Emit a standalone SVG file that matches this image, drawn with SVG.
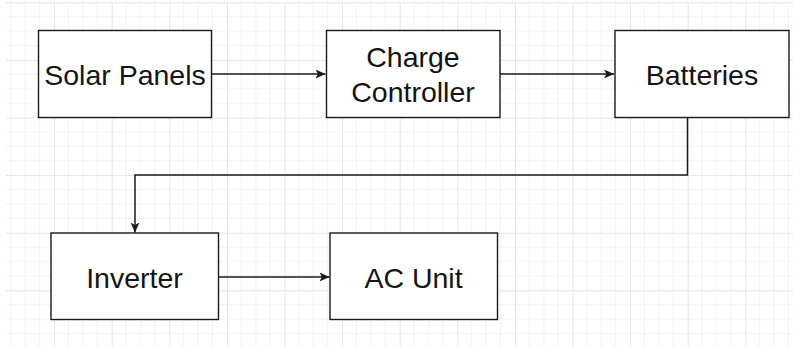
<svg xmlns="http://www.w3.org/2000/svg" width="793" height="347" viewBox="0 0 793 347">
  <style>
    .box { fill: #ffffff; stroke: #1a1a1a; stroke-width: 1.4; }
    .lbl { font-family: "Liberation Sans", Arial, sans-serif; font-size: 28.5px; fill: #141414; text-anchor: middle; }
    .edge { fill: none; stroke: #1a1a1a; stroke-width: 1.5; }
  </style>
  <defs>
    <pattern id="grid" patternUnits="userSpaceOnUse" x="54.1" y="2.3" width="57.6" height="57.6">
      <path d="M14.4 0V57.6M28.8 0V57.6M43.2 0V57.6M0 14.4H57.6M0 28.8H57.6M0 43.2H57.6" stroke="#f2f2f2" stroke-width="1" fill="none"/>
      <path d="M0.5 0V57.6M0 0.5H57.6" stroke="#e4e4e4" stroke-width="1" fill="none"/>
    </pattern>
    <marker id="arr" markerUnits="userSpaceOnUse" markerWidth="12" markerHeight="10" refX="10" refY="4.5" orient="auto">
      <path d="M0 0 L10 4.5 L0 9 L2.5 4.5 Z" fill="#1a1a1a"/>
    </marker>
  </defs>
  <rect x="0" y="0" width="793" height="347" fill="#ffffff"/>
  <rect x="6" y="2" width="787" height="345" fill="url(#grid)"/>

  <g id="connectors">
    <path class="edge" d="M212 74 H325.5" marker-end="url(#arr)"/>
    <path class="edge" d="M500 74 H614" marker-end="url(#arr)"/>
    <path class="edge" d="M687.5 118 V175 H135 V232.5" marker-end="url(#arr)"/>
    <path class="edge" d="M218.5 277 H329.5" marker-end="url(#arr)"/>
  </g>

  <g id="solar-panels">
    <rect class="box" x="38.5" y="30.5" width="173" height="87"/>
    <text class="lbl" x="125" y="85">Solar Panels</text>
  </g>
  <g id="charge-controller">
    <rect class="box" x="326.5" y="30.5" width="173.5" height="87"/>
    <text class="lbl" x="413" y="66.7">Charge</text>
    <text class="lbl" x="413" y="101.7">Controller</text>
  </g>
  <g id="batteries">
    <rect class="box" x="615" y="30.5" width="174" height="87"/>
    <text class="lbl" x="702" y="85">Batteries</text>
  </g>
  <g id="inverter">
    <rect class="box" x="51" y="233" width="167.5" height="86.5"/>
    <text class="lbl" x="134.5" y="287.7">Inverter</text>
  </g>
  <g id="ac-unit">
    <rect class="box" x="330" y="233" width="167.5" height="86.5"/>
    <text class="lbl" x="413.5" y="287.7">AC Unit</text>
  </g>
</svg>
